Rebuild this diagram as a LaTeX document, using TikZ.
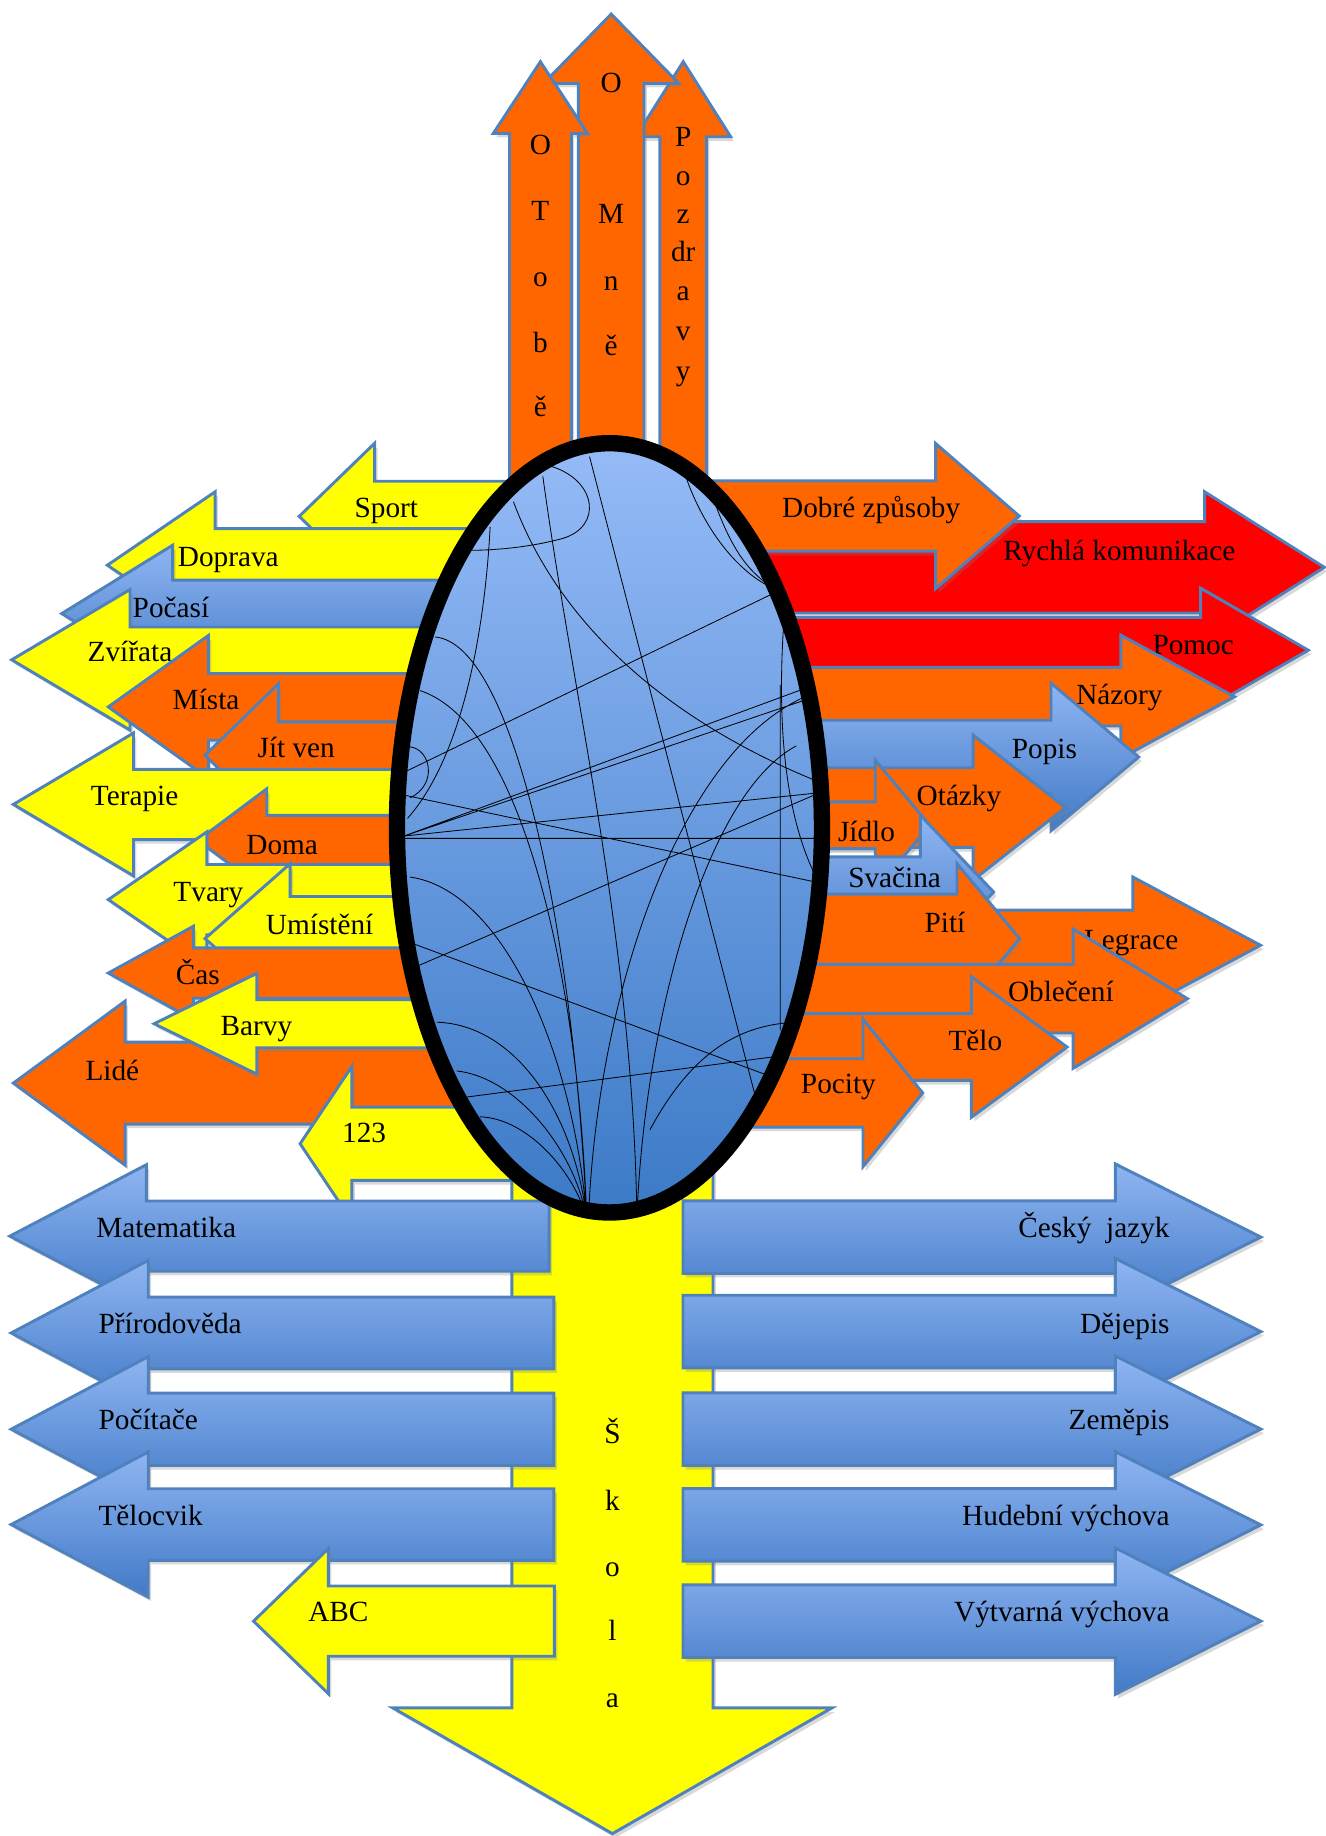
\documentclass[tikz,border=0pt]{standalone}
\usepackage{fontspec}
\setmainfont{Liberation Serif}
\usetikzlibrary{shadows}

\definecolor{oranz}{RGB}{255,102,0}
\definecolor{zluta}{RGB}{255,255,0}
\definecolor{cervena}{RGB}{255,0,0}
\definecolor{obrys}{RGB}{79,129,189}
\definecolor{modra1}{RGB}{143,181,242}
\definecolor{modra2}{RGB}{66,122,199}
\definecolor{elip1}{RGB}{149,187,247}
\definecolor{elip2}{RGB}{60,122,199}

% vodorovna sipka: styl, hrot, zaklad hlavy, konec, y, pul driku, pul hlavy
\newcommand{\sipka}[7]{%
	\draw[#1] (#2,#5) -- (#3,#5-#7) -- (#3,#5-#6) -- (#4,#5-#6)
	-- (#4,#5+#6) -- (#3,#5+#6) -- (#3,#5+#7) -- cycle;}
% svisla sipka: styl, hrot, zaklad hlavy, konec, x, pul driku, pul hlavy
\newcommand{\svisla}[7]{%
	\draw[#1] (#5,#2) -- (#5-#7,#3) -- (#5-#6,#3) -- (#5-#6,#4)
	-- (#5+#6,#4) -- (#5+#6,#3) -- (#5+#7,#3) -- cycle;}

\begin{document}
\begin{tikzpicture}[x=1pt, y=-1pt,
		sip/.style={draw=obrys, line width=2.5pt, line join=miter,
			drop shadow={shadow xshift=2.5pt, shadow yshift=-3.5pt, opacity=0.3}},
		oranzsip/.style={sip, fill=oranz},
		zlutasip/.style={sip, fill=zluta},
		cervenasip/.style={sip, fill=cervena},
		modrasip/.style={sip, top color=modra1, bottom color=modra2},
		slovo/.style={font=\fontsize{25}{30}\selectfont, inner sep=0pt,
			text height=16pt, text depth=0pt}]
	\useasboundingbox (0,0) rectangle (1132,1568);

	% leve sipky
	\sipka{zlutasip}{255.5}{320}{470}{441}{30}{62.5}
	\node[slovo] (sport) at (330,434) {Sport};
	\sipka{zlutasip}{91.7}{183.7}{470}{482.7}{31.3}{62.7}
	\node[slovo] (doprava) at (195,476) {Doprava};
	\sipka{modrasip}{52.7}{147.5}{470}{524}{28.5}{58.4}
	\node[slovo] (pocasi) at (146,519) {Počasí};
	\sipka{zlutasip}{10}{111}{470}{563.5}{28}{60}
	\node[slovo] (zvirata) at (111,557) {Zvířata};
	\sipka{oranzsip}{92.5}{178}{470}{603.7}{28.5}{61}
	\node[slovo] (mista) at (176,598) {Místa};
	\sipka{oranzsip}{175}{237.8}{470}{645}{28.5}{61}
	\node[slovo] (jitven) at (253,639) {Jít ven};
	\sipka{zlutasip}{11.4}{114}{470}{687}{30}{61}
	\node[slovo] (terapie) at (115,680) {Terapie};
	\sipka{oranzsip}{169}{227.8}{470}{717.7}{21.4}{44}
	\node[slovo] (doma) at (241,722) {Doma};
	\sipka{zlutasip}{92.5}{176.6}{470}{768.3}{30}{57.8}
	\node[slovo] (tvary) at (178,762) {Tvary};
	\sipka{zlutasip}{175.1}{247.8}{470}{801.6}{36}{64}
	\node[slovo] (umisteni) at (273,790) {Umístění};
	\sipka{oranzsip}{92.5}{165.2}{470}{831}{21.5}{40}
	\node[slovo] (cas) at (169,833) {Čas};
	\sipka{oranzsip}{11.4}{106.8}{470}{925}{35}{70}
	\node[slovo] (lide) at (96,915) {Lidé};
	\sipka{zlutasip}{131.6}{219.3}{470}{874.3}{20.5}{43}
	\node[slovo] (barvy) at (219,876) {Barvy};
	\sipka{zlutasip}{256.3}{300.5}{470}{976.8}{31.3}{66}
	\node[slovo] (cisla) at (311,968) {123};

	% prave sipky
	\sipka{cervenasip}{1131}{1028.8}{540}{484.5}{39}{64.5}
	\node[slovo] (rychla) at (956,471) {Rychlá komunikace};
	\sipka{oranzsip}{870.4}{799}{540}{440.7}{30}{62}
	\node[slovo] (dobre) at (744,434) {Dobré způsoby};
	\sipka{cervenasip}{1117.3}{1025.4}{540}{555.3}{28}{53}
	\node[slovo] (pomoc) at (1019,551) {Pomoc};
	\sipka{oranzsip}{1054.3}{957.3}{540}{595}{25}{52.5}
	\node[slovo] (nazory) at (956,594) {Názory};
	\sipka{modrasip}{972.5}{897.6}{540}{646.5}{31.4}{63}
	\node[slovo] (popis) at (892,640) {Popis};
	\sipka{oranzsip}{909.9}{831}{540}{689.7}{34}{62}
	\node[slovo] (otazky) at (819,680) {Otázky};
	\sipka{oranzsip}{794}{747.5}{540}{704.8}{20}{55.5}
	\node[slovo] (jidlo) at (740,711) {Jídlo};
	\sipka{modrasip}{848.6}{786}{540}{761.8}{30}{65.5}
	\node[slovo] (svacina) at (764,750) {Svačina};
	\sipka{oranzsip}{1076.5}{967.5}{540}{807.3}{30}{58.3}
	\node[slovo] (legrace) at (966,803) {Legrace};
	\sipka{oranzsip}{870.8}{817.3}{540}{801.6}{38}{64}
	\node[slovo] (piti) at (807,788) {Pití};
	\sipka{oranzsip}{1014.1}{916.4}{540}{852.9}{29.3}{59.5}
	\node[slovo] (obleceni) at (906,847) {Oblečení};
	\sipka{oranzsip}{911.3}{829.6}{540}{894.2}{28.5}{60}
	\node[slovo] (telo) at (833,889) {Tělo};
	\sipka{oranzsip}{788}{737}{540}{933.4}{29.2}{63}
	\node[slovo] (pocity) at (716,926) {Pocity};

	% nahoru
	\svisla{oranzsip}{52.7}{116.8}{520}{583.5}{19.9}{40.5}
	\foreach \p/\y [count=\i] in {P/117, o/150, z/183, dr/215, a/249, v/283, y/317}
		\node[slovo] (pozdravy\i) at (583.5,\y) {\p};
	\svisla{oranzsip}{12}{71.2}{520}{522}{28}{57.7}
	\foreach \p/\y [count=\i] in {O/71, M/183, n/240, ě/296}
		\node[slovo] (omne\i) at (522,\y) {\p};
	\svisla{oranzsip}{52.7}{113.9}{520}{461.5}{26.4}{40.2}
	\foreach \p/\y [count=\i] in {O/124, T/180, o/237, b/293, ě/348}
		\node[slovo] (otobe\i) at (461.5,\y) {\p};

	% skola
	\svisla{zlutasip}{1566}{1458.6}{960}{523}{85.9}{187.5}
	\foreach \p/\y [count=\i] in {Š/1225, k/1282, o/1338, l/1393, a/1450}
		\node[slovo] (skola\i) at (523,\y) {\p};

	% predmety vlevo
	\sipka{modrasip}{8.4}{125}{469}{1055.7}{30}{61}
	\node[slovo, anchor=west] (matematika) at (82,1049) {Matematika};
	\sipka{modrasip}{9.5}{126.6}{473}{1138.4}{30.6}{62}
	\node[slovo, anchor=west] (prirodoveda) at (84,1131) {Přírodověda};
	\sipka{modrasip}{9.5}{126.6}{473}{1220.6}{30.9}{62}
	\node[slovo, anchor=west] (pocitace) at (84,1213) {Počítače};
	\sipka{modrasip}{9.5}{126.6}{473}{1302}{30.6}{62}
	\node[slovo, anchor=west] (telocvik) at (84,1295) {Tělocvik};
	\sipka{zlutasip}{216.5}{280.5}{473.5}{1384.5}{30}{62}
	\node[slovo] (abc) at (289,1377) {ABC};

	% predmety vpravo
	\sipka{modrasip}{1076.8}{952.5}{583.3}{1056.5}{31}{62.5}
	\node[slovo, anchor=east] (cesky) at (999,1049) {Český\ \ jazyk};
	\sipka{modrasip}{1076.8}{952.5}{583.3}{1137.2}{31}{62.5}
	\node[slovo, anchor=east] (dejepis) at (999,1131) {Dějepis};
	\sipka{modrasip}{1076.8}{952.5}{583.3}{1220.5}{31}{62.5}
	\node[slovo, anchor=east] (zemepis) at (999,1213) {Zeměpis};
	\sipka{modrasip}{1076.8}{952.5}{583.3}{1302.3}{31}{62.5}
	\node[slovo, anchor=east] (hudebni) at (999,1295) {Hudební výchova};
	\sipka{modrasip}{1076.8}{952.5}{583.3}{1384.5}{31}{62.5}
	\node[slovo, anchor=east] (vytvarna) at (999,1377) {Výtvarná výchova};

	% elipsa
	\fill[top color=elip1, bottom color=elip2] (520.5,707) ellipse [x radius=181.5, y radius=328.5];
	\begin{scope}
		\clip (520.5,707) ellipse [x radius=181.5, y radius=328.5];
		\draw[line width=0.7pt]
		(463.6,406.8) .. controls (490,600) and (540,800) .. (544,1040)
		(503.5,390) -- (645,936)
		(438.5,428.5) .. controls (480,540) and (580,620) .. (700,668)
		(340,662) -- (662,506)
		(585,405) .. controls (600,450) and (630,490) .. (662,503)
		(610,428) .. controls (625,470) and (640,490) .. (662,503)
		(666.4,585) -- (666.4,880)
		(669,537) .. controls (664,620) and (670,700) .. (700,755)
		(345,714) -- (690,587)
		(345,714) -- (690,597)
		(345,714) -- (700,677)
		(345,716) -- (700,716)
		(345,679) -- (700,754)
		(371.6,544) .. controls (440,550) and (490,800) .. (501,1040)
		(358.8,589.8) .. controls (450,620) and (495,850) .. (501,1040)
		(350,749) .. controls (430,760) and (490,900) .. (501,1040)
		(373,873) .. controls (440,875) and (490,950) .. (501,1040)
		(390,914.6) .. controls (440,920) and (490,980) .. (501,1040)
		(410,953.8) .. controls (450,955) and (490,1000) .. (501,1040)
		(502.6,1040) .. controls (510,850) and (580,640) .. (690,594)
		(543.9,1040) .. controls (550,880) and (600,680) .. (680,637)
		(345,830) -- (700,677)
		(345,803) -- (660,920)
		(375,940) -- (680,900)
		(555,965) .. controls (590,900) and (630,875) .. (680,873)
		(350.2,637.8) .. controls (368,640) and (374,670) .. (350.2,681.4)
		(418.6,450) .. controls (415,520) and (400,640) .. (348,699)
		(470,398) .. controls (510,410) and (515,450) .. (480,460)
		.. controls (450,468) and (420,470) .. (400,470);
	\end{scope}
	\draw[line width=14pt] (520.5,707) ellipse [x radius=181.5, y radius=328.5];
\end{tikzpicture}
\end{document}
